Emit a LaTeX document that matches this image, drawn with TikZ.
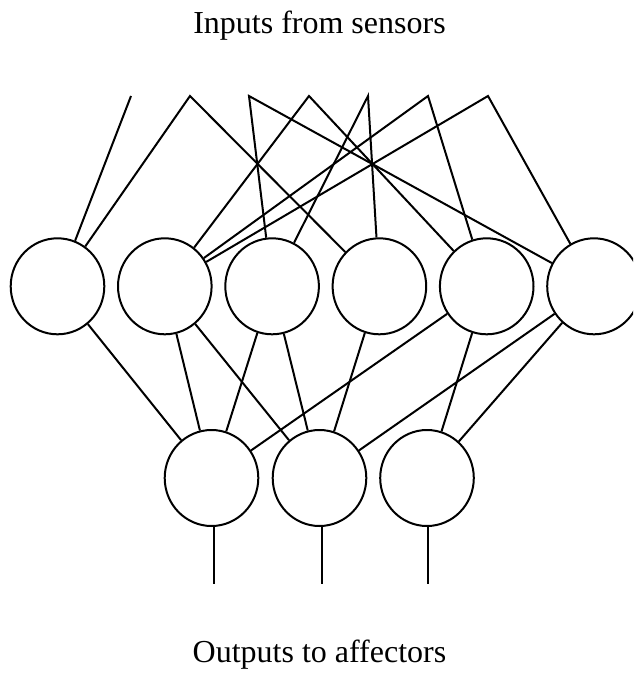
\documentclass[tikz,border=0pt]{standalone}
\usepackage{fontspec}
\setmainfont{Liberation Serif}
\usetikzlibrary{shapes.geometric}
\begin{document}
\begin{tikzpicture}[x=1pt,y=-1pt,
  neuron/.style={ellipse,draw,line width=2pt,minimum width=93.6pt,minimum height=96pt,inner sep=0pt},
  wire/.style={line width=2pt},
  caption/.style={font=\fontsize{32}{38}\selectfont,anchor=base,inner sep=0pt}]
\clip (0,0) rectangle (633,677);
% inputs
\foreach \i/\x in {1/131,2/190,3/249,4/309,5/368,6/428,7/488}
  \coordinate (I\i) at (\x,96);
% hidden layer
\foreach \i/\x in {1/57.5,2/164.8,3/272.1,4/379.4,5/486.7,6/594}
  \node[neuron] (H\i) at (\x,286.3) {};
% output layer
\foreach \i/\x in {1/211.5,2/319.5,3/427}
  \node[neuron] (O\i) at (\x,478) {};
\foreach \i/\x in {1/214,2/322,3/428}
  \coordinate (E\i) at (\x,584);
% input wires
\draw[wire] (H1) -- (I1);
\draw[wire] (H1) -- (I2) -- (H4);
\draw[wire] (H3) -- (I3) -- (H6);
\draw[wire] (H2) -- (I4) -- (H5);
\draw[wire] (H3) -- (I5) -- (H4);
\draw[wire] (H2) -- (I6) -- (H5);
\draw[wire] (H2) -- (I7) -- (H6);
% hidden to output
\draw[wire] (H1) -- (O1);
\draw[wire] (H2) -- (O1);
\draw[wire] (H2) -- (O2);
\draw[wire] (H3) -- (O1);
\draw[wire] (H3) -- (O2);
\draw[wire] (H4) -- (O2);
\draw[wire] (H5) -- (O1);
\draw[wire] (H5) -- (O3);
\draw[wire] (H6) -- (O2);
\draw[wire] (H6) -- (O3);
% outputs
\foreach \i in {1,2,3}
  \draw[wire] (O\i.south -| E\i) -- (E\i);
% captions
\node[caption] (top) at (319.5,34) {Inputs from sensors};
\node[caption] (bottom) at (319.5,662) {Outputs to affectors};
\end{tikzpicture}
\end{document}
